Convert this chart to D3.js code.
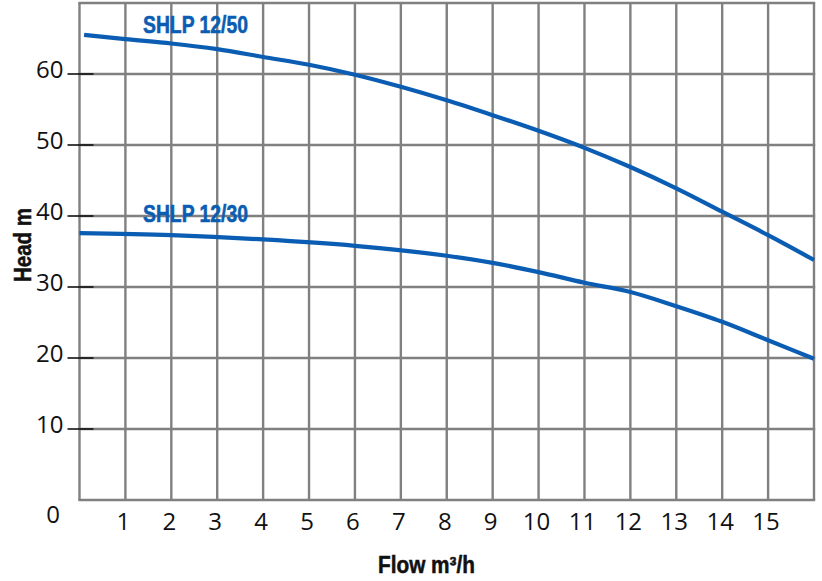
<!DOCTYPE html>
<html>
<head>
<meta charset="utf-8">
<script src="https://cdn.jsdelivr.net/npm/d3@7/dist/d3.min.js"></script>
<style>
  html, body { margin: 0; padding: 0; background: #fff; }
  svg { display: block; }
  .tick-label { font-family: "Open Sans", "Noto Sans", sans-serif; font-size: 24px; fill: #111; }
  .bold-label { font-family: "Liberation Sans Narrow", "Liberation Sans", "Noto Sans", sans-serif; font-weight: bold; }
</style>
</head>
<body>
<svg id="chart" width="822" height="581"></svg>
<script>
// ---- data ----
const xTicks = [1, 2, 3, 4, 5, 6, 7, 8, 9, 10, 11, 12, 13, 14, 15];
const xGrid = [0, 1, 2, 3, 4, 5, 6, 7, 8, 9, 10, 11, 12, 13, 14, 15, 16];
const yTicks = [10, 20, 30, 40, 50, 60];
const yGrid = [0, 10, 20, 30, 40, 50, 60, 70];

const seriesNames = ["SHLP 12/50", "SHLP 12/30"];
const flow50 = [0.1, 1, 2, 3, 4, 5, 6, 7, 8, 9, 10, 11, 12, 13, 14, 15, 16];
const head50 = [65.5, 64.9, 64.3, 63.5, 62.4, 61.3, 59.9, 58.2, 56.3, 54.2, 52.0, 49.6, 46.9, 43.9, 40.6, 37.3, 33.8];
const flow30 = [0, 2, 4, 6, 8, 9, 10, 11, 12, 13, 14, 15, 16];
const head30 = [37.6, 37.3, 36.7, 35.8, 34.4, 33.4, 32.1, 30.6, 29.3, 27.3, 25.1, 22.5, 19.9];

const xTitle = "Flow m³/h";
const yTitle = "Head m";

// ---- layout ----
const svg = d3.select("#chart");
const x = d3.scaleLinear().domain([0, 16]).range([79.5, 814]);
const y = d3.scaleLinear().domain([0, 70]).range([500, 3]);
const gridColor = "#808080";
const blue = "#0a5db2";

// grid
const g = svg.append("g");
g.selectAll("line.vgrid").data(xGrid).join("line")
  .attr("class", "vgrid")
  .attr("x1", d => x(d)).attr("x2", d => x(d))
  .attr("y1", y(70)).attr("y2", y(0))
  .attr("stroke", gridColor).attr("stroke-width", 2.4);
g.selectAll("line.hgrid").data(yGrid).join("line")
  .attr("class", "hgrid")
  .attr("x1", x(0) - 1.2).attr("x2", x(16) + 1.2)
  .attr("y1", d => y(d)).attr("y2", d => y(d))
  .attr("stroke", gridColor).attr("stroke-width", 2.4);

// y ticks
g.selectAll("line.ytick").data(yTicks).join("line")
  .attr("class", "ytick")
  .attr("x1", x(0) - 12).attr("x2", x(0) + 14)
  .attr("y1", d => y(d)).attr("y2", d => y(d))
  .attr("stroke", "#111").attr("stroke-width", 1.6);

g.selectAll("text.ylab").data(yTicks).join("text")
  .attr("class", "tick-label ylab")
  .attr("x", x(0) - 16)
  .attr("y", d => y(d) + 4)
  .attr("text-anchor", "end")
  .text(d => d);

g.append("text").attr("class", "tick-label")
  .attr("x", 53).attr("y", 523).attr("text-anchor", "middle").text("0");

g.selectAll("text.xlab").data(xTicks).join("text")
  .attr("class", "tick-label xlab")
  .attr("x", d => x(d) - 2)
  .attr("y", 530)
  .attr("text-anchor", "middle")
  .text(d => d);

// axis titles
svg.append("text").attr("class", "bold-label")
  .attr("x", 378).attr("y", 573)
  .attr("font-size", 23).attr("fill", "#111")
  .attr("stroke", "#111").attr("stroke-width", 0.5)
  .attr("textLength", 97).attr("lengthAdjust", "spacingAndGlyphs")
  .text(xTitle);

svg.append("text").attr("class", "bold-label")
  .attr("transform", "translate(31,282) rotate(-90)")
  .attr("font-size", 23).attr("fill", "#111")
  .attr("stroke", "#111").attr("stroke-width", 0.5)
  .attr("textLength", 74).attr("lengthAdjust", "spacingAndGlyphs")
  .text(yTitle);

// curves
const line = d3.line().x(d => x(d[0])).y(d => y(d[1])).curve(d3.curveMonotoneX);
const s50 = flow50.map((f, i) => [f, head50[i]]);
const s30 = flow30.map((f, i) => [f, head30[i]]);
[s50, s30].forEach(s => {
  svg.append("path").attr("d", line(s))
    .attr("fill", "none").attr("stroke", blue).attr("stroke-width", 4.2)
    .attr("stroke-linecap", "butt");
});

// series labels
svg.append("text").attr("class", "bold-label")
  .attr("x", 143).attr("y", 33).attr("font-size", 24.5).attr("fill", blue)
  .attr("stroke", blue).attr("stroke-width", 0.6)
  .attr("textLength", 105).attr("lengthAdjust", "spacingAndGlyphs")
  .text(seriesNames[0]);
svg.append("text").attr("class", "bold-label")
  .attr("x", 143).attr("y", 222).attr("font-size", 24.5).attr("fill", blue)
  .attr("stroke", blue).attr("stroke-width", 0.6)
  .attr("textLength", 105).attr("lengthAdjust", "spacingAndGlyphs")
  .text(seriesNames[1]);
</script>
</body>
</html>
